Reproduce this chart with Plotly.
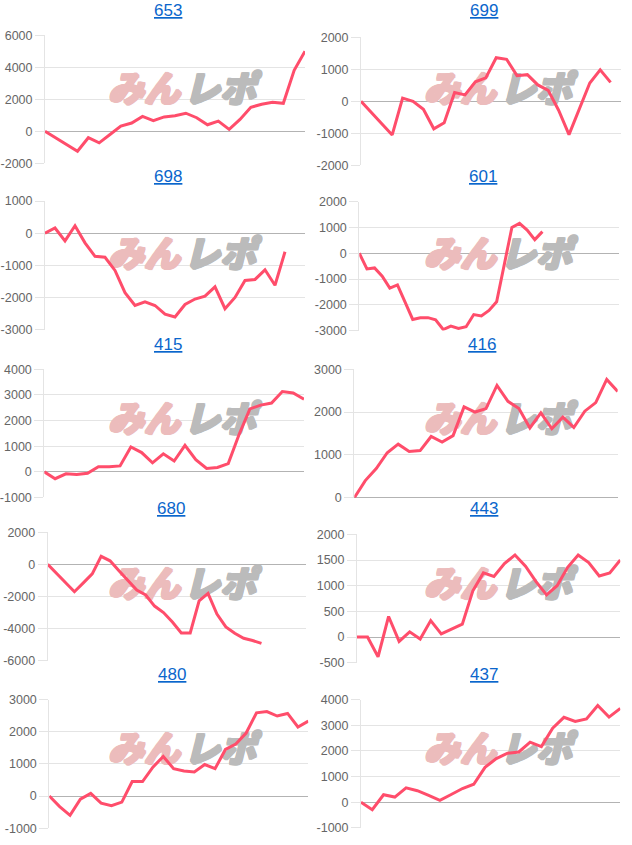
import plotly.graph_objects as go

# ---------------- data ----------------
titles = ["653", "699", "698", "601", "415", "416", "680", "443", "480", "437"]

s653 = [0, -400, -830, -1240, -400, -720, -200, 330, 520, 930, 660, 900, 970, 1130, 850,
        410, 640, 120, 740, 1500, 1690, 1810, 1750, 3810, 5000]
s699 = [0, -350, -700, -1050, 100, 0, -250, -860, -670, 270, 200, 610, 730, 1360, 1310,
        800, 830, 510, 340, -280, -1040, -230, 570, 980, 590]
s698 = [0, 160, -240, 230, -300, -720, -750, -1160, -1850, -2250, -2140, -2250, -2520,
        -2610, -2220, -2050, -1960, -1670, -2350, -2000, -1470, -1440, -1140, -1620, -580]
s601 = [0, -610, -570, -890, -1350, -1230, -1900, -2570, -2500, -2500, -2580, -2960, -2830,
        -2920, -2850, -2380, -2430, -2220, -1880, -450, 1000, 1160, 900, 530, 840]
s415 = [0, -270, -80, -110, -60, 200, 200, 230, 970, 750, 350, 700, 420, 1030, 470, 130,
        170, 320, 1450, 2450, 2600, 2680, 3130, 3070, 2830]
s416 = [0, 400, 680, 1050, 1250, 1080, 1100, 1430, 1300, 1450, 2120, 2000, 2080, 2620, 2250,
        2080, 1630, 1980, 1610, 1880, 1640, 2020, 2220, 2760, 2480]
s680 = [0, -570, -1130, -1700, -1150, -590, 500, 220, -400, -1000, -1600, -1900, -2590,
        -2990, -3580, -4260, -4260, -2260, -1800, -3090, -3880, -4280, -4590, -4730, -4910]
s443 = [0, 0, -385, 400, -85, 100, -40, 320, 60, 150, 250, 900, 1250, 1180, 1430, 1600,
        1380, 1080, 820, 1000, 1360, 1600, 1450, 1190, 1250, 1500]
s480 = [0, -330, -600, -100, 80, -220, -300, -190, 450, 450, 900, 1230, 850, 780, 750, 980,
        850, 1450, 1620, 1960, 2590, 2630, 2490, 2570, 2150, 2330]
s437 = [0, -290, 290, 200, 560, 450, 270, 75, 300, 535, 700, 1360, 1700, 1910, 1960, 2340,
        2170, 2890, 3310, 3150, 3250, 3770, 3320, 3660]

series = [s653, s699, s698, s601, s415, s416, s680, s443, s480, s437]
label_counts = [25, 26, 27, 35, 25, 25, 30, 26, 26, 24]

ticks653 = [-2000, 0, 2000, 4000, 6000]
ticks699 = [-2000, -1000, 0, 1000, 2000]
ticks698 = [-3000, -2000, -1000, 0, 1000]
ticks601 = [-3000, -2000, -1000, 0, 1000, 2000]
ticks415 = [-1000, 0, 1000, 2000, 3000, 4000]
ticks416 = [0, 1000, 2000, 3000]
ticks680 = [-6000, -4000, -2000, 0, 2000]
ticks443 = [-500, 0, 500, 1000, 1500, 2000]
ticks480 = [-1000, 0, 1000, 2000, 3000]
ticks437 = [-1000, 0, 1000, 2000, 3000, 4000]
tick_lists = [ticks653, ticks699, ticks698, ticks601, ticks415, ticks416, ticks680,
              ticks443, ticks480, ticks437]

# ---------------- layout geometry (pixels) ----------------
W, H = 632, 845
# plot boxes: x0, x1, ytop, ybottom
boxes = [
    (45, 305, 28.7, 159),
    (361, 621, 30.7, 161),
    (45, 305, 197.3, 328),
    (359.3, 618.7, 198, 329),
    (44.3, 304, 368.3, 498.7),
    (354.3, 617.7, 368.3, 499),
    (47.7, 306, 534, 665),
    (357, 620.3, 536.3, 666.7),
    (49.3, 308.3, 704.3, 835),
    (361, 620.3, 704.3, 834.7),
]
title_pos = [(168, 10), (484, 10), (168, 178), (483, 178), (168, 349), (482, 349),
             (171, 516), (484, 516), (172, 685), (484, 685)]
row_off = [0, 0, 168, 168, 336, 336, 504, 504, 672, 672]
col_off = [0, 316, 0, 316, 0, 316, 0, 316, 0, 316]

LINE = "#ff4d6b"
GRID = "#e4e4e4"
TICKC = "#666666"
PINK = "#ecbcbc"
GRAY = "#bbbbbb"


def thick(c):
    return ", ".join(f"{dx}px {dy}px 0 {c}" for dx, dy in
                     [(1, 0), (-1, 0), (0, 1), (0, -1), (1, 1), (-1, -1), (1, -1), (-1, 1)])


fig = go.Figure()
layout = dict(
    width=W, height=H, margin=dict(l=0, r=0, t=0, b=0),
    paper_bgcolor="white", plot_bgcolor="white", showlegend=False,
    annotations=[],
)

for i in range(10):
    sfx = "" if i == 0 else str(i + 1)
    x0, x1, yt, yb = boxes[i]
    ticks = tick_lists[i]
    ymin, ymax = ticks[0], ticks[-1]
    n = label_counts[i]
    layout["xaxis" + sfx] = dict(
        domain=[x0 / W, x1 / W], range=[0, n - 1], showgrid=False, zeroline=False,
        showline=False, showticklabels=False, ticks="", anchor="y" + sfx, fixedrange=True,
    )
    layout["yaxis" + sfx] = dict(
        domain=[1 - yb / H, 1 - yt / H], range=[ymin, ymax], anchor="x" + sfx,
        tickvals=ticks, ticktext=[str(t) for t in ticks],
        showgrid=True, gridcolor=GRID, gridwidth=1,
        zeroline=True, zerolinecolor="#b3b3b3", zerolinewidth=1,
        showline=True, linecolor=GRID, linewidth=1,
        ticks="outside", ticklen=9, tickcolor=GRID,
        tickfont=dict(family="Liberation Sans, Arial", size=12.5, color=TICKC),
        fixedrange=True,
    )

    # watermark (drawn beneath the data line)
    def to_data(px, py):
        xd = (px - x0) / (x1 - x0) * (n - 1)
        yd = ymax - (py - yt) / (yb - yt) * (ymax - ymin)
        return xd, yd

    wx1, wy = to_data(144 + col_off[i], 87 + row_off[i])
    wx2, _ = to_data(220 + col_off[i], 87 + row_off[i])
    fig.add_trace(go.Scatter(
        x=[wx1], y=[wy], mode="text", text=["みん"], hoverinfo="skip",
        textfont=dict(family="Noto Sans CJK JP", size=36, color=PINK,
                      weight=900, style="italic", shadow=thick(PINK)),
        xaxis="x" + sfx, yaxis="y" + sfx,
    ))
    fig.add_trace(go.Scatter(
        x=[wx2], y=[wy], mode="text", text=["レポ"], hoverinfo="skip",
        textfont=dict(family="Noto Sans CJK JP", size=36, color=GRAY,
                      weight=900, style="italic", shadow=thick(GRAY)),
        xaxis="x" + sfx, yaxis="y" + sfx,
    ))
    vals = series[i]
    fig.add_trace(go.Scatter(
        x=list(range(len(vals))), y=vals, mode="lines",
        line=dict(color=LINE, width=3), xaxis="x" + sfx, yaxis="y" + sfx,
    ))
    tx, ty = title_pos[i]
    layout["annotations"].append(dict(
        text="<u>" + titles[i] + "</u>", x=tx / W, y=1 - (ty - 6) / H, xref="paper",
        yref="paper", xanchor="center", yanchor="middle", showarrow=False,
        font=dict(family="Liberation Sans, Arial", size=17, color="#0a66cc"),
    ))

fig.update_layout(**layout)
fig.write_html("out.html")
